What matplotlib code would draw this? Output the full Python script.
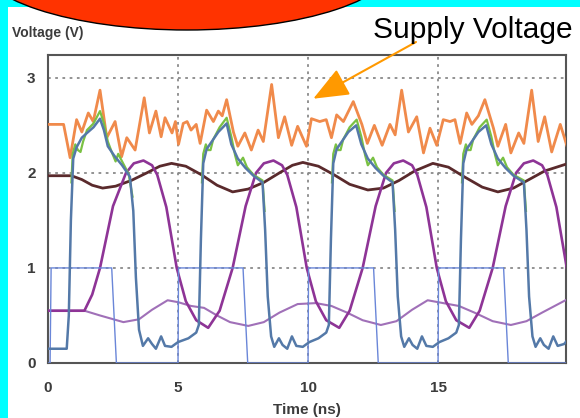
import numpy as np
import matplotlib
matplotlib.use("Agg")
import matplotlib.pyplot as plt
from matplotlib.patches import Rectangle, Ellipse

# Supply voltage (orange, noisy)
supply_t = [0, 0.6, 0.85, 1.1, 1.3, 1.55, 1.74, 2.0, 2.26, 2.58, 2.83, 3.03, 3.35, 3.7, 3.9,
            4.15, 4.35, 4.5, 4.77, 4.9, 5.02, 5.2, 5.35, 5.5, 5.7, 5.85, 6.1, 6.36, 6.55, 6.7,
            6.87, 7.13, 7.3, 7.57, 7.82, 8.08, 8.28, 8.6, 8.86, 9.1, 9.37, 9.6, 9.94, 10.13,
            10.45, 10.7, 10.9, 11.1, 11.36, 11.74, 12.07, 12.28, 12.55, 12.85, 13.15, 13.35,
            13.6, 13.86, 14.18, 14.44, 14.69, 14.95, 15.2, 15.46, 15.65, 15.85, 16.1, 16.3,
            16.55, 16.8, 17.13, 17.3, 17.6, 17.8, 18.1, 18.3, 18.6, 18.85, 19.1, 19.37, 19.7, 19.95]
supply_v = [2.51, 2.51, 2.16, 2.56, 2.43, 2.63, 2.54, 2.87, 2.37, 2.54, 2.17, 2.37, 2.24, 2.79, 2.42,
            2.65, 2.38, 2.58, 2.42, 2.54, 2.30, 2.52, 2.54, 2.45, 2.51, 2.31, 2.66, 2.54, 2.65, 2.60,
            2.77, 2.43, 2.28, 2.42, 2.24, 2.45, 2.33, 2.93, 2.37, 2.59, 2.29, 2.49, 2.28, 2.57,
            2.54, 2.56, 2.37, 2.61, 2.54, 2.75, 2.51, 2.31, 2.50, 2.29, 2.51, 2.40,
            2.87, 2.43, 2.59, 2.21, 2.47, 2.29, 2.56, 2.54, 2.56, 2.31, 2.63, 2.51,
            2.60, 2.77, 2.47, 2.28, 2.51, 2.21, 2.42, 2.31, 2.87, 2.33, 2.59, 2.22, 2.51, 2.29]

# Slow node (dark brown)
node_t = [0, 0.9, 1.3, 1.7, 2.1, 2.6, 3.2, 3.8, 4.3, 4.75, 5.3, 5.9, 6.5, 7.1, 7.7, 8.3, 8.9,
          9.4, 9.8, 10.4, 11.0, 11.6, 12.3, 12.9, 13.5, 14.1, 14.8, 15.4, 16.0, 16.7, 17.3,
          17.9, 18.5, 19.1, 19.9]
node_v = [1.97, 1.97, 1.93, 1.87, 1.84, 1.86, 1.92, 2.00, 2.07, 2.10, 2.07, 1.98, 1.87, 1.80,
          1.83, 1.90, 2.00, 2.08, 2.11, 2.07, 1.98, 1.88, 1.82, 1.84, 1.92, 2.02, 2.10, 2.06,
          1.96, 1.85, 1.80, 1.84, 1.93, 2.02, 2.09]

# Purple (large swing)
purple_t = [0, 1.4, 1.7, 2.0, 2.5, 3.0, 3.3, 3.67, 4.0, 4.2, 4.55, 4.95, 5.3, 5.7, 6.16, 6.6,
            7.1, 7.6, 8.0, 8.3, 8.67, 9.0, 9.2, 9.55, 9.95, 10.3, 10.7, 11.2, 11.6, 12.1, 12.6,
            13.0, 13.3, 13.66, 14.0, 14.2, 14.55, 14.95, 15.3, 15.7, 16.2, 16.6, 17.1, 17.6,
            18.0, 18.3, 18.66, 19.0, 19.2, 19.55, 19.95]
purple_v = [0.55, 0.55, 0.72, 1.00, 1.65, 2.00, 2.10, 2.13, 2.08, 1.98, 1.64, 1.00, 0.65, 0.45,
            0.37, 0.55, 1.00, 1.65, 2.00, 2.10, 2.13, 2.08, 1.98, 1.64, 1.00, 0.65, 0.45, 0.37,
            0.55, 1.00, 1.65, 2.00, 2.10, 2.13, 2.08, 1.98, 1.64, 1.00, 0.65, 0.45, 0.37, 0.55,
            1.00, 1.65, 2.00, 2.10, 2.13, 2.08, 1.98, 1.64, 1.00]

# Light purple (small swing)
lilac_t = [0, 1.4, 2.0, 2.9, 3.5, 4.0, 4.6, 5.0, 5.5, 6.0, 6.5, 7.0, 7.7, 8.3, 8.9, 9.6, 10.3,
           10.9, 11.5, 12.1, 12.8, 13.4, 14.0, 14.6, 15.2, 15.8, 16.4, 17.1, 17.8, 18.4, 19.0, 19.9]
lilac_v = [0.55, 0.55, 0.50, 0.43, 0.46, 0.56, 0.66, 0.64, 0.60, 0.58, 0.50, 0.43, 0.39, 0.43,
           0.53, 0.62, 0.63, 0.60, 0.53, 0.45, 0.40, 0.44, 0.56, 0.66, 0.63, 0.60, 0.53, 0.44,
           0.40, 0.44, 0.53, 0.66]

# Input clock (thin blue square wave)
clock_t = [0, 0.08, 0.12, 2.45, 2.63, 5.0, 5.02, 7.5, 7.68, 10.0, 10.02, 12.52, 12.7, 15.0,
           15.02, 17.52, 17.7, 20]
clock_v = [0, 0, 1, 1, 0, 0, 1, 1, 0, 0, 1, 1, 0, 0, 1, 1, 0, 0]

# Output (thick steel blue)
out_t = [0, 0.72, 0.8, 0.88, 0.97, 1.1, 1.3, 1.5, 1.75, 2.0, 2.15, 2.3, 2.55, 2.85, 3.15, 3.28,
         3.38, 3.5, 3.65, 3.85, 4.0, 4.15, 4.35, 4.5, 4.75, 5.0, 5.4, 5.7,
         5.8, 5.88, 5.97, 6.1, 6.3, 6.55, 6.87, 7.05, 7.3, 7.6, 7.9, 8.25, 8.35, 8.45, 8.58,
         8.7, 8.88, 9.02, 9.2, 9.38, 9.55, 9.8, 10.05, 10.4, 10.7,
         10.8, 10.88, 10.97, 11.1, 11.3, 11.55, 11.85, 12.05, 12.3, 12.6, 12.9, 13.25, 13.35,
         13.45, 13.58, 13.7, 13.88, 14.02, 14.2, 14.38, 14.55, 14.8, 15.05, 15.4, 15.7,
         15.8, 15.88, 15.97, 16.1, 16.3, 16.55, 16.85, 17.05, 17.3, 17.6, 17.9, 18.3, 18.4,
         18.5, 18.63, 18.75, 18.93, 19.07, 19.25, 19.43, 19.6, 19.85, 20]
out_v = [0.15, 0.15, 0.50, 1.50, 2.15, 2.27, 2.37, 2.42, 2.48, 2.57, 2.45, 2.28, 2.18, 2.08, 1.96, 1.60,
         0.90, 0.35, 0.18, 0.26, 0.20, 0.15, 0.28, 0.18, 0.17, 0.22, 0.26, 0.32,
         0.40, 1.30, 2.10, 2.25, 2.33, 2.43, 2.52, 2.30, 2.15, 2.05, 1.97, 1.90, 1.40, 0.70, 0.28,
         0.17, 0.26, 0.19, 0.15, 0.28, 0.18, 0.17, 0.22, 0.26, 0.32,
         0.40, 1.30, 2.10, 2.25, 2.33, 2.43, 2.50, 2.30, 2.15, 2.05, 1.97, 1.90, 1.40,
         0.70, 0.28, 0.17, 0.26, 0.19, 0.15, 0.28, 0.18, 0.17, 0.22, 0.26, 0.32,
         0.40, 1.30, 2.10, 2.25, 2.33, 2.43, 2.50, 2.30, 2.15, 2.05, 1.97, 1.90, 1.40,
         0.70, 0.28, 0.17, 0.26, 0.19, 0.15, 0.28, 0.18, 0.20, 0.25]

# Second output (green), only where it separates from the blue trace
green_t = [0.9, 0.95, 1.05, 1.15, 1.25, 1.35, 1.5, 1.75, 2.0, 2.15, 2.3, 2.45, 2.6, 2.7, 2.85, 3.1, 3.25, np.nan,
           5.92, 5.97, 6.07, 6.15, 6.25, 6.35, 6.6, 6.87, 7.05, 7.2, 7.3, 7.4, 7.5, 7.65, 7.9, 8.25, 8.33, np.nan,
           10.92, 10.97, 11.07, 11.15, 11.25, 11.35, 11.6, 11.87, 12.05, 12.2, 12.3, 12.4, 12.5, 12.65, 12.9, 13.25, 13.33, np.nan,
           15.92, 15.97, 16.07, 16.15, 16.25, 16.35, 16.6, 16.87, 17.05, 17.2, 17.3, 17.4, 17.5, 17.65, 17.9, 18.3, 18.38]
green_v = [1.90, 2.20, 2.30, 2.24, 2.22, 2.33, 2.45, 2.52, 2.65, 2.52, 2.33, 2.22, 2.12, 2.20, 2.12, 1.99, 1.75, np.nan,
           1.90, 2.20, 2.30, 2.24, 2.24, 2.35, 2.48, 2.58, 2.38, 2.18, 2.08, 2.12, 2.16, 2.06, 1.98, 1.92, 1.60, np.nan,
           1.90, 2.20, 2.30, 2.24, 2.24, 2.35, 2.48, 2.56, 2.38, 2.18, 2.08, 2.12, 2.16, 2.06, 1.98, 1.92, 1.60, np.nan,
           1.90, 2.20, 2.30, 2.24, 2.24, 2.35, 2.48, 2.56, 2.38, 2.18, 2.08, 2.12, 2.16, 2.06, 1.98, 1.92, 1.60]

x_ticks = [0, 5, 10, 15]
y_ticks = [0, 1, 2, 3]

W, H = 580, 418


def main():
    plt.rcParams['font.family'] = ['Liberation Sans', 'DejaVu Sans']
    fig = plt.figure(figsize=(W / 100, H / 100), dpi=100)
    fig.patch.set_facecolor('white')

    # cyan slide border and red callout box (cut off at the top)
    fig.patches.append(Rectangle((0, 0), 8 / W, 1, transform=fig.transFigure,
                                 facecolor='#00ffff', edgecolor='none', zorder=0))
    fig.patches.append(Rectangle((0, 1 - 7 / H), 1, 7 / H, transform=fig.transFigure,
                                 facecolor='#00ffff', edgecolor='none', zorder=0))
    fig.patches.append(Ellipse((187 / W, 1 + 40 / H), 2 * 211 / W, 2 * 70 / H,
                               transform=fig.transFigure, facecolor='#ff3300',
                               edgecolor='black', linewidth=1.0, zorder=5))

    ax = fig.add_axes([48 / W, 1 - 363 / H, (566 - 48) / W, (363 - 55) / H])
    ax.set_facecolor('white')

    ax.plot(supply_t, supply_v, color='#f08a4b', lw=2.0, solid_joinstyle='round', zorder=3)
    ax.plot(node_t, node_v, color='#5a2a2c', lw=2.0, zorder=3)
    ax.plot(lilac_t, lilac_v, color='#a070b8', lw=1.5, zorder=3)
    ax.plot(purple_t, purple_v, color='#8e3496', lw=1.9, zorder=3)
    ax.plot(clock_t, clock_v, color='#6a86d8', lw=1.0, zorder=4)
    ax.plot(green_t, green_v, color='#7ac143', lw=1.6, zorder=4)
    ax.plot(out_t, out_v, color='#5479a8', lw=1.8, solid_joinstyle='round', zorder=5)

    ax.set_xlim(0, 19.92)
    ax.set_ylim(0, 3.24)
    ax.set_xticks(x_ticks)
    ax.set_yticks(y_ticks)
    ax.tick_params(length=0, labelsize=11, labelcolor='#3c3c3c')
    ax.tick_params(axis='x', pad=13)
    ax.tick_params(axis='y', pad=9)
    for lab in ax.get_xticklabels() + ax.get_yticklabels():
        lab.set_fontweight('bold')

    for v in [1, 2, 3]:
        ax.axhline(v, color='#8a8a8a', lw=1.3, ls=(0, (1.5, 2.5)), zorder=1)
    for t in [5, 10, 15]:
        ax.axvline(t, color='#8a8a8a', lw=1.3, ls=(0, (1.5, 2.5)), zorder=1)

    for s in ax.spines.values():
        s.set_color('#555555')
        s.set_linewidth(1.5)

    ax.set_xlabel('Time (ns)', fontsize=11, fontweight='bold', color='#3c3c3c', labelpad=6)
    fig.text(12 / W, 1 - 33 / H, 'Voltage (V)', fontsize=10, fontweight='bold',
             color='#3c3c3c', va='center', ha='left')

    fig.text(373 / W, 1 - 38 / H, 'Supply Voltage', fontsize=21.5, color='black',
             va='baseline', ha='left')
    ax.annotate('', xy=(10.2, 2.78), xycoords='data',
                xytext=(416 / W, 1 - 42 / H), textcoords='figure fraction',
                arrowprops=dict(arrowstyle='-|>,head_length=1.1,head_width=0.45',
                                facecolor='#ff9900', edgecolor='#ff9900', lw=1.5,
                                mutation_scale=20, shrinkA=0, shrinkB=0),
                annotation_clip=False, zorder=6)

    fig.savefig('out.png', dpi=100)
    plt.close(fig)


if __name__ == "__main__":
    main()
